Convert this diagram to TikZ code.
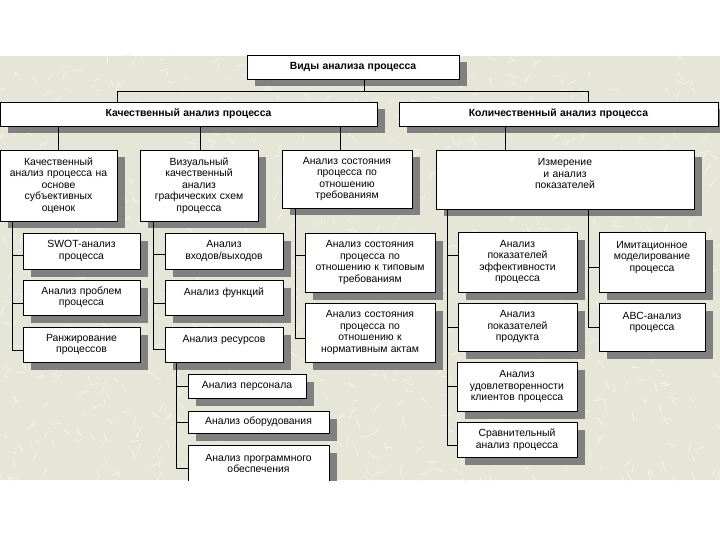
\documentclass[tikz,border=0pt]{standalone}
\usepackage{fontspec}
\setmainfont{Liberation Sans}
\definecolor{bg}{RGB}{230,230,216}
\definecolor{bgl}{RGB}{244,244,236}
\definecolor{shgray}{RGB}{128,128,128}
\tikzset{
  box/.style={draw=black, line width=0.8pt, fill=white, align=center, inner sep=0pt,
    font=\fontsize{10.4}{11.5}\selectfont},
  hbox/.style={box, font=\fontsize{10.4}{11.5}\selectfont\bfseries},
  shadowbox/.style={fill=shgray},
  conn/.style={draw=black, line width=0.8pt},
  fibre/.style={draw=bgl, line width=0.7pt, line cap=round},
}
\newcommand\drawbox[7][box]{%
  \pgfmathsetlengthmacro\bxw{(#5)-(#3)}%
  \pgfmathsetlengthmacro\bxh{(#6)-(#4)}%
  \pgfmathsetlengthmacro\bxt{(#5)-(#3)-4}%
  \fill[shadowbox] ({(#3)+7.5},{(#4)+7.5}) rectangle ({(#5)+7.5},{(#6)+7.5});
  \node[#1, minimum width=\bxw, minimum height=\bxh, text width=\bxt] (#2) at ({((#3)+(#5))/2},{((#4)+(#6))/2}) {#7};}
\begin{document}
\begin{tikzpicture}[x=1pt,y=-1pt]
\useasboundingbox (0,0) rectangle (720,540);
\fill[white] (0,0) rectangle (720,540);
\fill[bg] (0,56) rectangle (720,480);
\begin{scope}
\clip (0,56) rectangle (720,480);
\pgfmathsetseed{7}
\foreach \i in {1,...,900} {
  \pgfmathsetmacro\fx{720*rnd}
  \pgfmathsetmacro\fy{50+440*rnd}
  \pgfmathsetmacro\fa{360*rnd}
  \pgfmathsetmacro\fl{4+6*rnd}
  \draw[fibre] (\fx,\fy) -- ++(\fa:\fl);
}
\end{scope}
\begin{scope}
\clip (0,0) rectangle (720,480);
% boxes
\drawbox[hbox]{top}{247}{55}{459}{79}{Виды анализа процесса}
\drawbox[hbox]{qual}{0}{102}{377}{126}{Качественный анализ процесса}
\drawbox[hbox]{quant}{399}{102}{718}{126}{Количественный анализ процесса}
\drawbox{A}{0}{150}{117}{221}{Качественный\\анализ процесса на\\основе\\субъективных\\оценок}
\drawbox{B}{140}{150}{258}{221}{Визуальный\\качественный\\анализ\\графических схем\\процесса}
\drawbox{C}{282}{150}{412}{208}{Анализ состояния\\процесса по\\отношению\\требованиям}
\drawbox{D}{436}{150}{694}{209}{Измерение\\и анализ\\показателей\\~}
\drawbox{swot}{23}{233}{140}{269}{SWOT-анализ\\процесса}
\drawbox{probl}{23}{280}{140}{315}{Анализ проблем\\процесса}
\drawbox{rank}{23}{327}{140}{362}{Ранжирование\\процессов}
\drawbox{io}{165}{233}{283}{269}{Анализ\\входов/выходов}
\drawbox{func}{165}{280}{283}{315}{Анализ функций\\~}
\drawbox{res}{165}{327}{283}{362}{Анализ ресурсов\\~}
\drawbox{pers}{188}{374}{306}{398}{Анализ персонала}
\drawbox{equip}{188}{411}{329}{433}{Анализ оборудования}
\drawbox{soft}{188}{445}{329}{482}{Анализ программного\\обеспечения}
\drawbox{typ}{305}{233}{435}{292}{Анализ состояния\\процесса по\\отношению к типовым\\требованиям}
\drawbox{norm}{305}{303}{435}{362}{Анализ состояния\\процесса по\\отношению к\\нормативным актам}
\drawbox{eff}{458}{232}{577}{292}{Анализ\\показателей\\эффективности\\процесса}
\drawbox{prod}{458}{303}{577}{351}{Анализ\\показателей\\продукта}
\drawbox{sat}{457}{362}{577}{411}{Анализ\\удовлетворенности\\клиентов процесса}
\drawbox{cmp}{457}{422}{577}{457}{Сравнительный\\анализ процесса}
\drawbox{imit}{599}{232}{705}{292}{Имитационное\\моделирование\\процесса\\~}
\drawbox{abc}{599}{303}{705}{351}{ABC-анализ\\процесса\\~}
% connectors
\coordinate (bus) at (364,91);
\coordinate (xql) at (117,0);
\coordinate (xqn) at (588,0);
\draw[conn] (bus |- top.south) -- (bus);
\draw[conn] (xql |- qual.north) |- (bus);
\draw[conn] (xqn |- quant.north) |- (bus);
\coordinate (xA) at (58,0);
\coordinate (xB) at (200,0);
\coordinate (xC) at (340,0);
\coordinate (xD) at (505,0);
\draw[conn] (xA |- qual.south) -- (xA |- A.north);
\draw[conn] (xB |- qual.south) -- (xB |- B.north);
\draw[conn] (xC |- qual.south) -- (xC |- C.north);
\draw[conn] (xD |- quant.south) -- (xD |- D.north);
\coordinate (tA) at (12,0);
\coordinate (tB) at (153,0);
\coordinate (tR) at (176,0);
\coordinate (tC) at (295,0);
\coordinate (tD) at (447,0);
\coordinate (tE) at (588,0);
\draw[conn] (tA |- A.south) |- ([yshift=-4pt]swot.west);
\draw[conn] (tA |- A.south) |- ([yshift=-5.5pt]probl.west);
\draw[conn] (tA |- A.south) |- ([yshift=-5.5pt]rank.west);
\draw[conn] (tB |- B.south) |- ([yshift=-3pt]io.west);
\draw[conn] (tB |- B.south) |- ([yshift=-5.5pt]func.west);
\draw[conn] (tB |- B.south) |- ([yshift=-4.5pt]res.west);
\draw[conn] (tR |- res.south) |- (pers.west);
\draw[conn] (tR |- res.south) |- (equip.west);
\draw[conn] (tR |- res.south) |- ([yshift=-4.5pt]soft.west);
\draw[conn] (tC |- C.south) |- ([yshift=7.5pt]typ.west);
\draw[conn] (tC |- C.south) |- ([yshift=-5.5pt]norm.west);
\draw[conn] (tD |- D.south) |- ([yshift=7pt]eff.west);
\draw[conn] (tD |- D.south) |- (prod.west);
\draw[conn] (tD |- D.south) |- (sat.west);
\draw[conn] (tD |- D.south) |- ([yshift=-5.5pt]cmp.west);
\draw[conn] (tE |- D.south) |- ([yshift=-5pt]imit.west);
\draw[conn] (tE |- D.south) |- (abc.west);
\end{scope}
\end{tikzpicture}
\end{document}
